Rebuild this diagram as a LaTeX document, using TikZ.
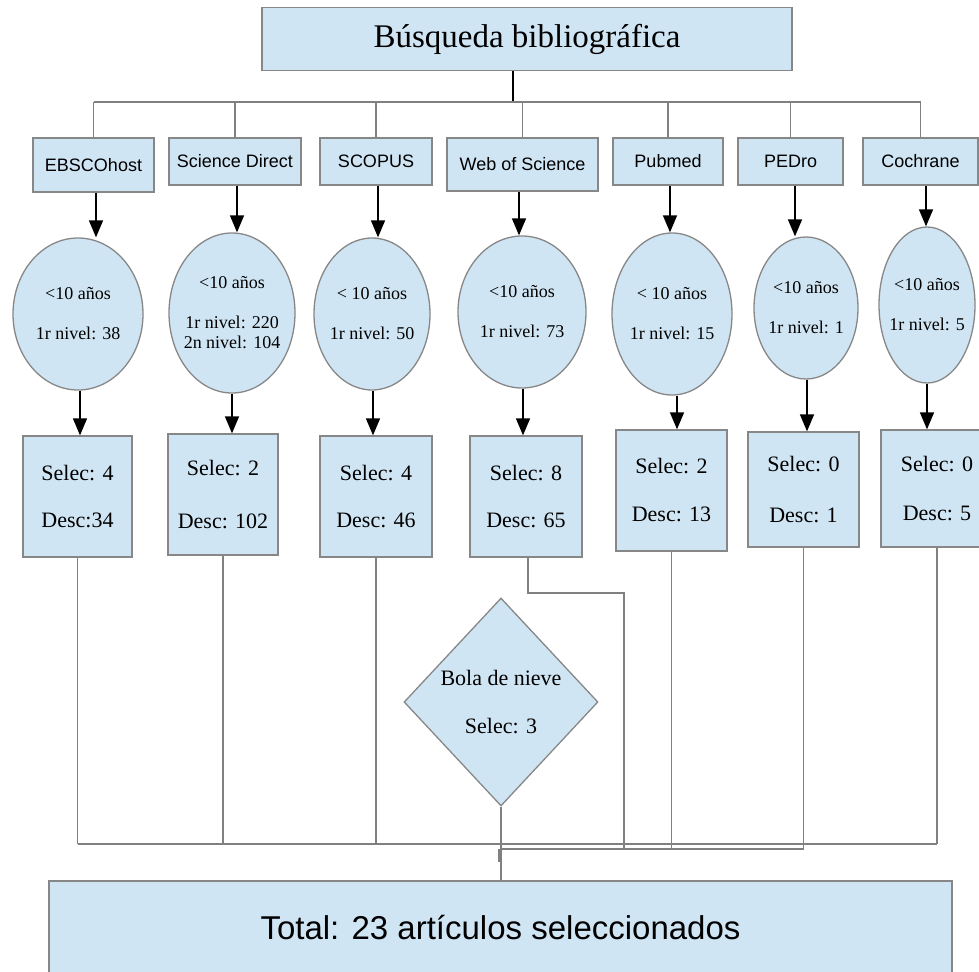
\documentclass[tikz,border=0pt]{standalone}
\usepackage{fontspec}
\setmainfont{Liberation Serif}
\setsansfont{Liberation Sans}
\usetikzlibrary{shapes.geometric,arrows.meta}
\definecolor{lb}{RGB}{208,229,243}
\definecolor{bd}{RGB}{135,135,135}
\definecolor{cn}{RGB}{128,128,128}
\begin{document}
\begin{tikzpicture}[x=1pt,y=-1pt,
  box/.style={draw=bd, line width=1.3pt, fill=lb, rectangle, inner sep=0pt, align=center},
  src/.style={box, font=\sffamily\fontsize{18}{22}\selectfont},
  ell/.style={draw=bd, line width=1.3pt, fill=lb, ellipse, inner xsep=-12pt, inner ysep=-4pt, align=center, font=\fontsize{18}{40}\selectfont},
  res/.style={box, font=\fontsize{22}{47}\selectfont},
  dia/.style={draw=bd, line width=1.3pt, fill=lb, diamond, inner sep=-6pt, align=center, font=\fontsize{22}{48}\selectfont},
  conn/.style={draw=cn, line width=1.3pt},
  arr/.style={draw=black, line width=1.5pt, -{Triangle[length=17pt,width=14pt]}}]
\useasboundingbox (0,0) rectangle (979,971);

% title
\node[box, font=\fontsize{33}{40}\selectfont, minimum width=530pt, minimum height=63pt] (title) at (527,39) {Búsqueda bibliográfica};

% sources
\node[src, minimum width=121pt, minimum height=54pt] (s1) at (93.5,165) {EBSCOhost};
\node[src, minimum width=132pt, minimum height=47pt] (s2) at (235,161.5) {Science Direct};
\node[src, minimum width=112pt, minimum height=47pt] (s3) at (376,161.5) {SCOPUS};
\node[src, minimum width=151pt, minimum height=53pt] (s4) at (522.5,164.5) {Web of Science};
\node[src, minimum width=110pt, minimum height=47pt] (s5) at (668,161.5) {Pubmed};
\node[src, minimum width=105pt, minimum height=47pt] (s6) at (790.5,161.5) {PEDro};
\node[src, minimum width=115pt, minimum height=47pt] (s7) at (920.5,161.5) {Cochrane};

% ellipses
\node[ell, minimum width=130pt, minimum height=152pt] (e1) at (78,314) {<10 años\\1r nivel: 38};
\node[ell, minimum width=126pt, minimum height=160pt, font=\fontsize{18}{20}\selectfont] (e2) at (232,313) {<10 años\\[20pt]1r nivel: 220\\2n nivel: 104};
\node[ell, minimum width=116pt, minimum height=152pt] (e3) at (372,314) {< 10 años\\1r nivel: 50};
\node[ell, minimum width=128pt, minimum height=152pt] (e4) at (522,312) {<10 años\\1r nivel: 73};
\node[ell, minimum width=120pt, minimum height=162pt] (e5) at (672,314) {< 10 años\\1r nivel: 15};
\node[ell, minimum width=104pt, minimum height=142pt] (e6) at (806,308) {<10 años\\1r nivel: 1};
\node[ell, minimum width=96pt, minimum height=156pt] (e7) at (927,305) {<10 años\\1r nivel: 5};

% results
\node[res, minimum width=109pt, minimum height=121pt] (r1) at (77.5,496.5) {Selec: 4\\Desc:34};
\node[res, minimum width=110pt, minimum height=121pt] (r2) at (223,494.5) {Selec: 2\\[6pt]Desc: 102};
\node[res, minimum width=112pt, minimum height=121pt] (r3) at (376,496.5) {Selec: 4\\Desc: 46};
\node[res, minimum width=112pt, minimum height=121pt] (r4) at (526,496.5) {Selec: 8\\Desc: 65};
\node[res, minimum width=111pt, minimum height=121pt] (r5) at (671.5,490.5) {Selec: 2\\[1pt]Desc: 13};
\node[res, minimum width=111pt, minimum height=115pt] (r6) at (803.5,489.5) {Selec: 0\\[4pt]Desc: 1};
\node[res, minimum width=112pt, minimum height=117pt] (r7) at (937,488.5) {Selec: 0\\[2pt]Desc: 5};

% snowball
\node[dia, minimum width=194pt, minimum height=208pt] (bola) at (501,702) {Bola de nieve\\Selec: 3};

% total
\node[box, font=\sffamily\fontsize{33}{40}\selectfont, minimum width=903pt, minimum height=92pt] (tot) at (500.5,927) {Total: 23 artículos seleccionados};

% top bus
\coordinate (bus) at (513,102);
\draw[line width=1.5pt] (title.south -| bus) -- (bus);
\draw[conn] (s1.north |- bus) -- (s7.north |- bus);
\foreach \i in {1,...,7} {\draw[conn] (s\i.north) -- (s\i.north |- bus);}

% arrows source -> ellipse
\draw[arr] ([xshift=2.5pt]s1.south) -- ([xshift=2.5pt]s1.south |- e1.north);
\draw[arr] ([xshift=2pt]s2.south) -- ([xshift=2pt]s2.south |- e2.north);
\draw[arr] ([xshift=2pt]s3.south) -- ([xshift=2pt]s3.south |- e3.north);
\draw[arr] ([xshift=-3.5pt]s4.south) -- ([xshift=-3.5pt]s4.south |- e4.north);
\draw[arr] ([xshift=2pt]s5.south) -- ([xshift=2pt]s5.south |- e5.north);
\draw[arr] ([xshift=4.5pt]s6.south) -- ([xshift=4.5pt]s6.south |- e6.north);
\draw[arr] ([xshift=5.5pt]s7.south) -- ([xshift=5.5pt]s7.south |- e7.north);

% arrows ellipse -> result
\draw[arr] ([xshift=2pt]e1.south) -- ([xshift=2pt]e1.south |- r1.north);
\draw[arr] (e2.south) -- (e2.south |- r2.north);
\draw[arr] ([xshift=1pt]e3.south) -- ([xshift=1pt]e3.south |- r3.north);
\draw[arr] ([xshift=1pt]e4.south) -- ([xshift=1pt]e4.south |- r4.north);
\draw[arr] ([xshift=5pt]e5.south) -- ([xshift=5pt]e5.south |- r5.north);
\draw[arr] ([xshift=1pt]e6.south) -- ([xshift=1pt]e6.south |- r6.north);
\draw[arr] (e7.south) -- (e7.south |- r7.north);

% bottom connectors
\coordinate (j1) at (501,844);
\coordinate (j2) at (501,849);
\coordinate (w1) at (624,593);
\draw[conn] (r1.south) -- (r1.south |- j1);
\draw[conn] (r2.south) -- (r2.south |- j1);
\draw[conn] (r3.south) -- (r3.south |- j1);
\draw[conn] (r7.south) -- (r7.south |- j1);
\draw[conn] (r1.south |- j1) -- (r7.south |- j1);
\draw[conn] ([xshift=2pt]r4.south) |- (w1) -- (w1 |- j2);
\draw[conn] (r5.south) -- (r5.south |- j2);
\draw[conn] (r6.south) -- (r6.south |- j2);
\draw[conn] (j2) -- (r6.south |- j2);
\draw[conn] (bola.south) -- (bola.south |- tot.north);
\draw[conn, line width=2.2pt] ([xshift=-1.5pt]j2) -- ++(0,13);
\end{tikzpicture}
\end{document}
